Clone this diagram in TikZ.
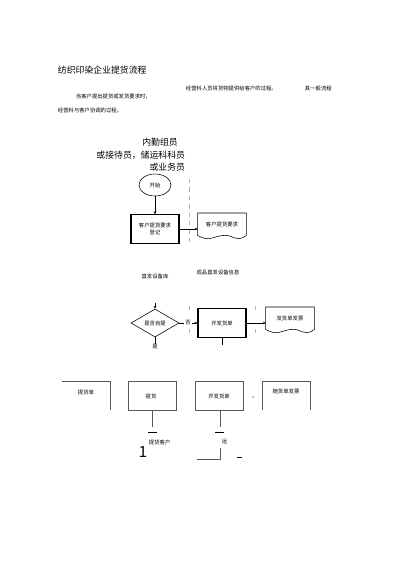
\documentclass[tikz,border=0pt]{standalone}
\usepackage{fontspec}
\newfontfamily\cjk{Noto Sans CJK SC}
\usetikzlibrary{shapes.geometric,arrows.meta}

% text sizes
\newcommand{\smalltxt}{\cjk\fontsize{3.8}{4.6}\selectfont}
\newcommand{\midtxt}{\cjk\fontsize{6.3}{7.5}\selectfont}

\tikzset{
	every node/.style={font=\smalltxt,inner sep=0.5pt},
	procbox/.style={draw,line width=0.8pt,minimum width=1.2cm,minimum height=0.72cm,align=center},
	docbox/.style={minimum width=1.2cm,minimum height=0.55cm,anchor=north,text depth=0pt},
	flowarrow/.style={-{Stealth[length=2pt,width=2pt]},line width=0.4pt},
	lanesep/.style={gray!60,dashed,dash pattern=on 3pt off 3pt,line width=0.5pt},
	thinbox/.style={line width=0.4pt,gray!70!black},
}

% document symbol with wavy bottom
\newcommand{\Docu}[1]{%
\draw[line width=0.4pt] (#1.south west)--(#1.north west)--(#1.north east)--(#1.south east)
	.. controls +(-0.3cm,-0.2cm) and +(0.3cm,0.05cm) .. (#1.south)
	.. controls +(-0.3cm,-0.05cm) and +(0.3cm,-0.15cm) .. (#1.south west);}

\begin{document}
\begin{tikzpicture}[x=0.025cm,y=-0.025cm]
\useasboundingbox[fill=white] (0,0) rectangle (400,566);

% heading
\node[anchor=west,font=\midtxt] (title) at (57,70) {纺织印染企业提货流程};
\node[anchor=west] (introa) at (185,88) {经营科人员将货物提供给客户的过程。};
\node[anchor=west] (introb) at (304,88) {其一般流程};
\node[anchor=west] (introc) at (75,97) {当客户提出提货或发货要求时，};
\node[anchor=west] (introd) at (57,110) {经营科与客户协调的过程。};

% roles
\node[font=\midtxt] (rolea) at (160,142) {内勤组员};
\node[font=\midtxt,anchor=east] (roleb) at (186,155) {或接待员，储运科科员};
\node[font=\midtxt,anchor=east] (rolec) at (186,167) {或业务员};

% first lane
\node[draw,ellipse,minimum width=0.8cm,minimum height=0.55cm] (start) at (155,185) {开始};
\node[procbox] (reg) at (155,229) {客户提货要求\\登记};
\node[docbox] (req) at (222,213) {客户提货要求};
\Docu{req}
\draw[flowarrow] (start)--(reg);
\draw[flowarrow] (reg)--(req.west|-reg);
\draw[lanesep] (189,179)--(189,243);

\node (stock) at (155,276) {直发设备库};
\node (info) at (218,272) {成品直发设备信息};

% decision
\coordinate (intop) at (155,303);
\node[draw,diamond,aspect=1.7,minimum width=1.2cm,minimum height=0.7cm,line width=0.4pt] (self) at (155,323) {是否自提};
\node (no) at (188,323) {否};
\node (yes) at (155,347) {是};
\node[procbox] (issue) at (222,323) {开发货单};
\node[docbox] (bill) at (290,307) {发货单发票};
\Docu{bill}
\draw[flowarrow] (intop)--(self);
\draw[line width=0.4pt] (self)--(no);
\draw[flowarrow] (no)--(issue);
\draw[line width=0.4pt] (self)--(yes);
\draw[flowarrow] (issue)--(bill.west|-issue);
\draw[lanesep] (189,306)--(189,314) (189,329)--(189,336);
\draw[lanesep] (255,306)--(255,313) (255,329)--(255,336);
\coordinate (tick) at (222,345);
\draw[line width=0.4pt] (issue.south)--(tick);

% bottom row
\node[minimum width=1.2cm,minimum height=0.72cm,anchor=north west] (ticket) at (62,381) {};
\node at (86,392) {提货单};
\draw[thinbox] (ticket.north west)--(ticket.north east)--(ticket.south east);
\node[thinbox,draw,minimum width=1.2cm,minimum height=0.72cm,anchor=north west] (pick) at (128,381) {};
\node at (151,396) {提货};
\node[thinbox,draw,minimum width=1.2cm,minimum height=0.72cm,anchor=north west] (open) at (195,381) {};
\node at (219,396) {开发货单};
\node[minimum width=1.2cm,minimum height=0.72cm,anchor=north west] (with) at (262,381) {};
\node at (286,391) {随货单发票};
\draw[thinbox] (with.south west)--(with.north west)--(with.north east)--(with.south east);
\fill (253,397) circle (0.4pt);

% fragments below
\coordinate (pa) at (152,427);
\draw[thinbox] (152,410)--(pa);
\draw[line width=0.5pt] (148,432)--(157,432);
\node[anchor=west] (client) at (148,442) {提货客户};
\node[font=\cjk\fontsize{11}{12}\selectfont] (one) at (143,452) {1};
\coordinate (oa) at (220,427);
\draw[thinbox] (220,410)--(oa);
\draw[line width=0.5pt] (215,432)--(224,432);
\node[anchor=west] (ship) at (221,442) {运};
\coordinate (ob) at (220,459);
\coordinate (oc) at (197,459);
\draw[thinbox] (220,448)--(ob)--(oc);
\draw[line width=0.4pt] (237,457)--(242,457);
\end{tikzpicture}
\end{document}
